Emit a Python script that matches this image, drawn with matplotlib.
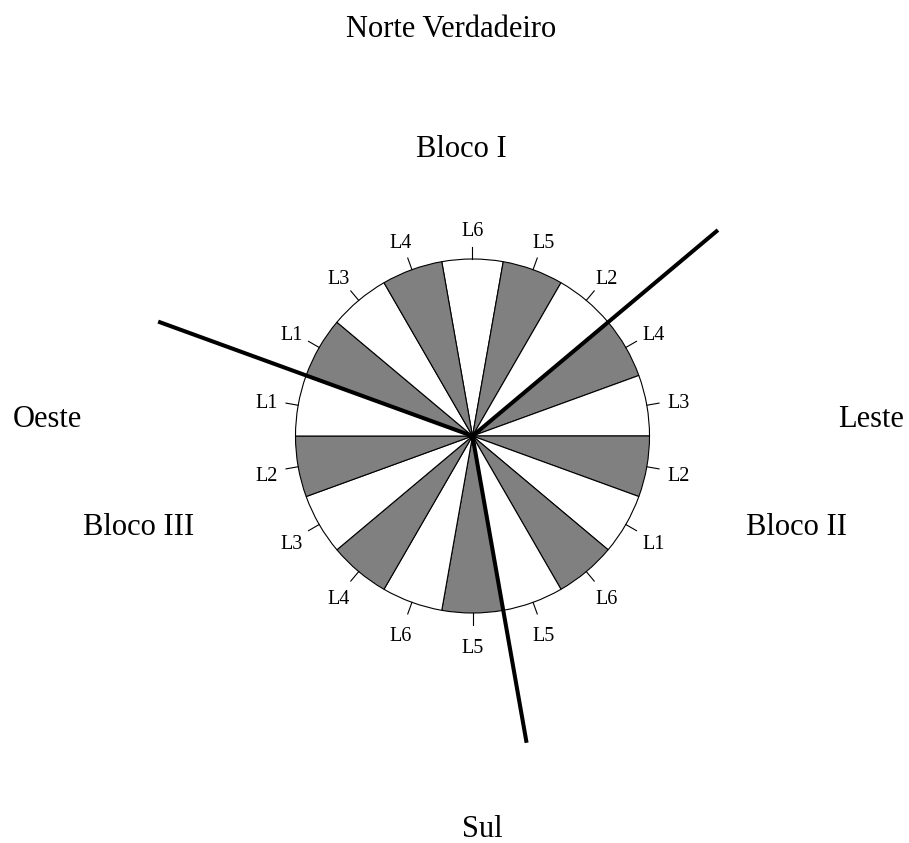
import numpy as np
import matplotlib
matplotlib.use('Agg')
import matplotlib.pyplot as plt

# Plot layout: 18 plots, listed clockwise starting at the top
plot_labels = ['L6', 'L5', 'L2', 'L4', 'L3', 'L2', 'L1', 'L6', 'L5',
               'L5', 'L6', 'L4', 'L3', 'L2', 'L1', 'L1', 'L3', 'L4']
plot_sizes = [1] * len(plot_labels)
plot_colors = ['white', '#808080'] * 9

# Block boundaries: index of the last plot of each block (clockwise)
block_names = ['Bloco I', 'Bloco II', 'Bloco III']
block_ends = [2, 8, 14]
block_line_len = [1.81, 1.76, 1.89]

# Orientation and block captions, positioned in pixels (x, baseline y)
captions = ['Norte Verdadeiro', 'Bloco I', 'Oeste', 'Leste',
            'Bloco III', 'Bloco II', 'Sul']
caption_px = [(451, 37), (461, 157), (47, 427), (871, 427),
              (139, 535), (797, 535), (482, 837)]

# figure geometry in pixels
W, H = 909, 843
cx, cy, rpx = 472.5, 436, 177.0


def px(x, y):
    """pixel position (from top-left) to data units, radius = 1"""
    return (x - cx) / rpx, (cy - y) / rpx


plt.rcParams['font.family'] = ['Liberation Serif', 'DejaVu Serif']

fig = plt.figure(figsize=(W / 100, H / 100), dpi=100)
ax = fig.add_axes([0, 0, 1, 1])

wedges, _ = ax.pie(plot_sizes, colors=plot_colors, startangle=100,
                   counterclock=False, radius=1,
                   wedgeprops=dict(edgecolor='black', linewidth=0.8))

# ticks and plot labels
for w, lab in zip(wedges, plot_labels):
    mid = np.deg2rad((w.theta1 + w.theta2) / 2)
    c, s = np.cos(mid), np.sin(mid)
    ax.plot([c, 1.07 * c], [s, 1.07 * s], color='black', lw=0.8)
    ax.text(1.18 * c, 1.18 * s - 0.022, lab, ha='center', va='center',
            fontsize=14.5)

# thick block separators
for idx, ln in zip(block_ends, block_line_len):
    w = wedges[idx]
    ang = np.deg2rad(min(w.theta1, w.theta2))
    ax.plot([0, ln * np.cos(ang)], [0, ln * np.sin(ang)],
            color='black', lw=2.9, solid_capstyle='butt')

for txt, (x, y) in zip(captions, caption_px):
    tx, ty = px(x, y)
    ax.text(tx, ty, txt, ha='center', va='baseline', fontsize=22)

ax.set_aspect('equal', adjustable='datalim')
x0, y1 = px(0, 0)
x1, y0 = px(W, H)
ax.set_xlim(x0, x1)
ax.set_ylim(y0, y1)
ax.set_axis_off()

fig.savefig('out.png', dpi=100)
plt.close()
